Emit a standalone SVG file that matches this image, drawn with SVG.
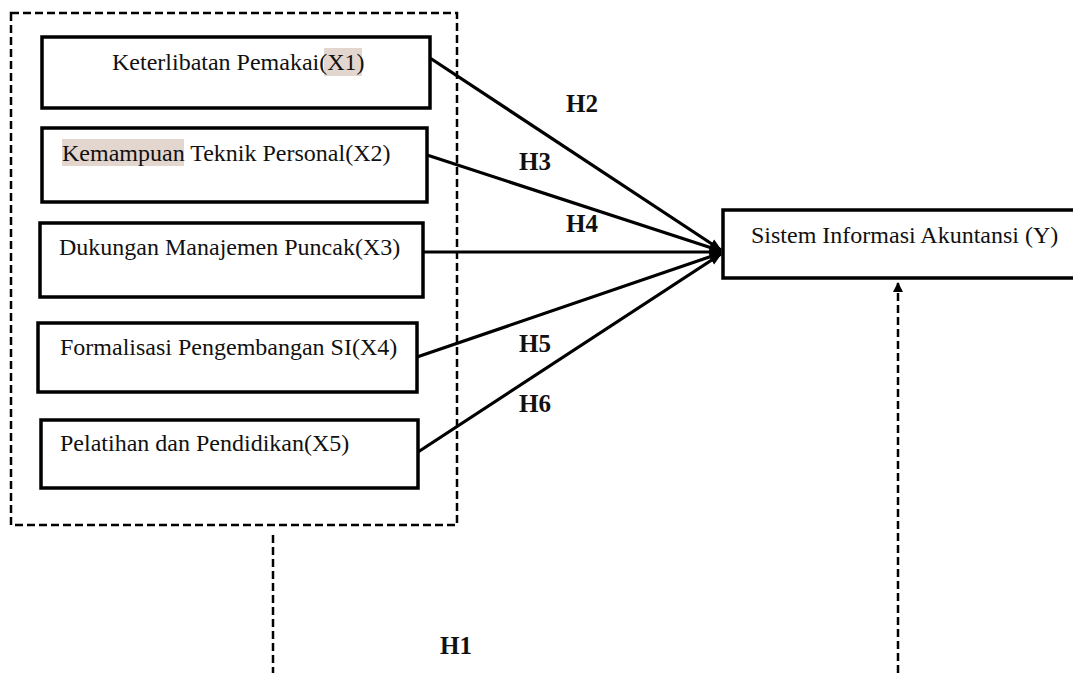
<svg xmlns="http://www.w3.org/2000/svg" width="1073" height="673" viewBox="0 0 1073 673">
<style>
.box{fill:#fff;stroke:#000;stroke-width:3.5}
.t{font-family:"Liberation Serif","Times New Roman",serif;font-size:24px;fill:#111}
.h{font-family:"Liberation Serif","Times New Roman",serif;font-size:25px;font-weight:bold;fill:#111;text-anchor:middle}
.hl{fill:#e3d6ce}
.arr{stroke:#000;stroke-width:3.2;fill:none;marker-end:url(#ah)}
.dash{stroke:#000;stroke-width:2.5;fill:none;stroke-dasharray:8 4}
</style>
<defs>
<marker id="ah" viewBox="0 0 10 10" refX="9" refY="5" markerWidth="4" markerHeight="4" orient="auto" markerUnits="strokeWidth">
<path d="M0,1 L10,5 L0,9 Z" fill="#000"/>
</marker>
<marker id="ahd" viewBox="0 0 10 10" refX="9" refY="5" markerWidth="4" markerHeight="4" orient="auto" markerUnits="strokeWidth">
<path d="M0,0 L10,5 L0,10 Z" fill="#000"/>
</marker>
</defs>
<rect width="1073" height="673" fill="#fff"/>
<g id="group-x">
<rect class="dash" x="11" y="13" width="446" height="512"/>
</g>
<g id="x1">
<rect class="box" x="42" y="37" width="388" height="71"/>
<rect class="hl" x="324" y="48" width="38" height="28"/>
<text class="t" x="112" y="70">Keterlibatan Pemakai(X1)</text>
</g>
<g id="x2">
<rect class="box" x="42" y="128" width="385" height="74"/>
<rect class="hl" x="62" y="139" width="122" height="27"/>
<text class="t" x="62" y="161">Kemampuan Teknik Personal(X2)</text>
</g>
<g id="x3">
<rect class="box" x="40" y="223" width="383" height="74"/>
<text class="t" x="59" y="255">Dukungan Manajemen Puncak(X3)</text>
</g>
<g id="x4">
<rect class="box" x="38" y="323" width="379" height="69"/>
<text class="t" x="60" y="355">Formalisasi Pengembangan SI(X4)</text>
</g>
<g id="x5">
<rect class="box" x="41" y="420" width="377" height="68"/>
<text class="t" x="60" y="451">Pelatihan dan Pendidikan(X5)</text>
</g>
<g id="y">
<rect class="box" x="723" y="210" width="360" height="68"/>
<text class="t" x="751" y="243">Sistem Informasi Akuntansi (Y)</text>
</g>
<g id="connectors">
<line class="arr" x1="430" y1="58" x2="721" y2="250"/>
<line class="arr" x1="427" y1="155" x2="721" y2="251"/>
<line class="arr" x1="423" y1="252" x2="721" y2="252"/>
<line class="arr" x1="417" y1="357" x2="721" y2="253"/>
<line class="arr" x1="418" y1="452" x2="721" y2="254"/>
<line class="dash" x1="273" y1="535" x2="273" y2="673"/>
<line class="dash" x1="898" y1="673" x2="898" y2="283" marker-end="url(#ahd)"/>
</g>
<g id="labels">
<text class="h" x="582" y="112">H2</text>
<text class="h" x="535" y="170">H3</text>
<text class="h" x="582" y="232">H4</text>
<text class="h" x="535" y="352">H5</text>
<text class="h" x="535" y="412">H6</text>
<text class="h" x="456" y="654">H1</text>
</g>
</svg>
